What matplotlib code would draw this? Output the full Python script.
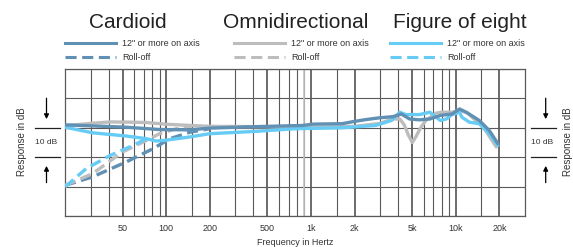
import numpy as np
import matplotlib
matplotlib.use('Agg')
import matplotlib.pyplot as plt
from matplotlib.lines import Line2D
from matplotlib.transforms import blended_transform_factory

plt.rcParams['font.family'] = ['Liberation Sans', 'DejaVu Sans']
plt.rcParams['lines.scale_dashes'] = False

# frequency response (Hz, dB)
cardioid_f = [20, 53, 90, 146, 200, 357, 608, 880, 1030, 1640, 1950, 2400, 2970, 3680, 4200,
              4790, 5600, 6600, 7800, 9400, 10600, 11800, 14500, 17000, 19500]
cardioid_db = [1.0, 0.2, -0.6, -0.7, -0.1, 0.3, 0.6, 0.8, 1.25, 1.4, 2.1, 2.8, 3.4, 3.8, 4.7,
               3.0, 2.7, 3.0, 4.2, 4.7, 6.4, 5.3, 2.5, -0.9, -5.4]
omni_f = [20, 30, 41, 58, 73, 100, 146, 200, 400, 900, 2000, 3000, 3600, 4100, 4400, 4700,
          5000, 5300, 5700, 6200, 7300, 8000, 9500, 10600, 12000, 15500, 19000]
omni_db = [0.7, 1.5, 2.0, 1.9, 1.8, 1.2, 0.8, 0.5, 0.4, 0.2, 0.5, 1.5, 3.0, 3.0, 1.0, -2.5,
           -5.0, -3.0, 0.0, 2.5, 5.0, 5.3, 5.3, 6.0, 5.0, 0.2, -6.5]
fig8_f = [20, 31, 53, 73, 85, 100, 146, 200, 400, 790, 1640, 2800, 3600, 4100, 4500, 5600,
          6600, 7800, 8600, 9400, 10600, 11000, 12400, 14500, 17000, 19500]
fig8_db = [0.2, -1.7, -2.8, -3.7, -4.5, -4.2, -3.1, -2.0, -1.25, -0.3, 0.0, 0.8, 2.5, 5.3, 4.5, 4.5,
           5.3, 2.5, 3.0, 4.5, 5.3, 3.6, 1.9, 1.4, -2.0, -6.0]

cardioid_roll_f = [20, 31, 53, 81, 106, 146, 200]
cardioid_roll_db = [-19.6, -16.7, -11.6, -7.1, -3.7, -1.5, -0.3]
omni_roll_f = [20, 31, 50, 73, 90, 118, 150]
omni_roll_db = [-19.6, -15.6, -8.2, -4.3, -2.0, -0.3, 0.6]
fig8_roll_f = [20, 28, 41, 59, 73]
fig8_roll_db = [-20.1, -13.9, -9.4, -6.0, -3.7]

patterns = ['Cardioid', 'Omnidirectional', 'Figure of eight']
tick_freqs = [50, 100, 200, 500, 1000, 2000, 5000, 10000, 20000]
tick_labels = ['50', '100', '200', '500', '1k', '2k', '5k', '10k', '20k']
grid_freqs = (list(range(30, 100, 10)) + [150] + list(range(300, 1000, 100)) + [1500]
              + list(range(3000, 10000, 1000)) + [15000])

c_card = '#6090b4'
c_omni = '#bdbdbd'
c_fig8 = '#66ccf5'
c_grid = '#5a5a5a'
dash = (0, (8, 4))

W, H = 573, 247
fig = plt.figure(figsize=(W / 100, H / 100), dpi=100)
ax = fig.add_axes([65 / W, 31 / H, 460 / W, 147 / H])
ax.set_xscale('log')
ax.set_xlim(20, 30000)
ax.set_ylim(-30, 20)

ax.set_xticks(tick_freqs)
ax.set_xticklabels(tick_labels)
ax.set_xticks(grid_freqs, minor=True)
ax.xaxis.set_minor_formatter(plt.NullFormatter())
ax.set_yticks(range(-30, 21, 10))
ax.set_yticklabels([])
ax.tick_params(which='both', length=0)
ax.tick_params(axis='x', labelsize=6.5, labelcolor='#333333', pad=6)
ax.grid(which='minor', axis='x', color=c_grid, lw=0.8)
ax.grid(which='major', axis='x', color='#444444', lw=1.1)
ax.grid(which='major', axis='y', color=c_grid, lw=0.8)
ax.axvline(900, color='#c4c4c4', lw=1.2, zorder=0.6)
ax.set_axisbelow(True)
for s in ax.spines.values():
    s.set_color(c_grid)
    s.set_linewidth(0.9)
ax.set_xlabel('Frequency in Hertz', fontsize=6.5, color='#333333', labelpad=3)

lw = 2.4
ax.plot(omni_f, omni_db, color=c_omni, lw=lw, solid_joinstyle='round', solid_capstyle='round', zorder=3)
ax.plot(fig8_f, fig8_db, color=c_fig8, lw=lw, solid_joinstyle='round', solid_capstyle='round', zorder=4)
ax.plot(cardioid_f, cardioid_db, color=c_card, lw=lw, solid_joinstyle='round', solid_capstyle='round', zorder=5)
ax.plot(cardioid_roll_f, cardioid_roll_db, color=c_card, lw=lw, ls=dash, zorder=3)
ax.plot(omni_roll_f, omni_roll_db, color=c_omni, lw=lw, ls=dash, zorder=3)
ax.plot(fig8_roll_f, fig8_roll_db, color=c_fig8, lw=lw, ls=dash, zorder=3)

# legend block at the top
def fx(px):
    return px / W

def fy(py):
    return 1 - py / H

colors = [c_card, c_omni, c_fig8]
title_x = [128, 296, 460]
line_x = [65, 234, 390]
for name, col, tx, lx in zip(patterns, colors, title_x, line_x):
    fig.text(fx(tx), fy(22), name, fontsize=15, color='#222222', ha='center', va='center')
    fig.add_artist(Line2D([fx(lx), fx(lx + 51)], [fy(43), fy(43)], color=col, lw=2.2))
    fig.add_artist(Line2D([fx(lx), fx(lx + 51)], [fy(57), fy(57)], color=col, lw=2.2, ls=dash))
    fig.text(fx(lx + 57), fy(43), '12" or more on axis', fontsize=6.5, color='#333333', va='center')
    fig.text(fx(lx + 57), fy(57.5), 'Roll-off', fontsize=6.5, color='#333333', va='center')

# 10 dB scale markers on both sides
tr = blended_transform_factory(fig.transFigure, ax.transData)
for x0, x1, xa, xt, xr in [(35, 60, 46.5, 46, 22), (531, 556, 545.7, 542, 568)]:
    for yv in (0, -10):
        ax.add_line(Line2D([fx(x0), fx(x1)], [yv, yv], transform=tr, color='#222222', lw=0.9, clip_on=False))
    ax.annotate('', xy=(fx(xa), 2), xytext=(fx(xa), 11), xycoords=tr, textcoords=tr,
                arrowprops=dict(arrowstyle='-|>', color='black', lw=0.9, mutation_scale=7))
    ax.annotate('', xy=(fx(xa), -12), xytext=(fx(xa), -19.6), xycoords=tr, textcoords=tr,
                arrowprops=dict(arrowstyle='-|>', color='black', lw=0.9, mutation_scale=7))
    ax.text(fx(xt), -4.9, '10 dB', transform=tr, fontsize=6, color='#333333', ha='center', va='center')
    ax.text(fx(xr), -4.7, 'Response in dB', transform=tr, fontsize=7, color='#333333',
            ha='center', va='center', rotation=90)

fig.savefig('out.png', dpi=100)
